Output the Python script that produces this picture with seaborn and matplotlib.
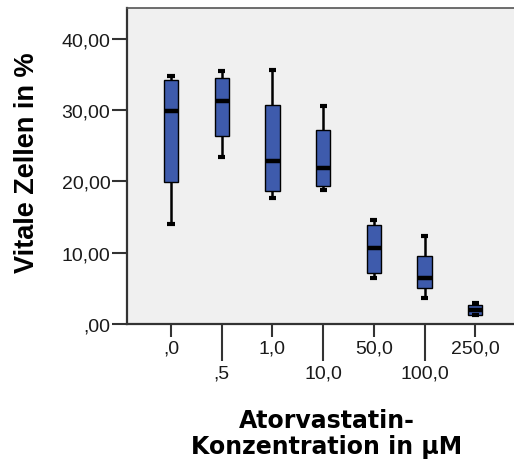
import numpy as np
import pandas as pd
import matplotlib
matplotlib.use("Agg")
import matplotlib.pyplot as plt
import seaborn as sns

# Konzentrationen (Beschriftung wie in SPSS)
konz = [",0", ",5", "1,0", "10,0", "50,0", "100,0", "250,0"]

minimum = [14.0, 23.4, 17.7, 18.8, 6.5, 3.7, 1.2]
q1 = [19.9, 26.3, 18.7, 19.3, 7.1, 5.1, 1.3]
median = [29.8, 31.3, 22.9, 21.8, 10.6, 6.5, 2.0]
q3 = [34.2, 34.5, 30.7, 27.2, 13.9, 9.5, 2.6]
maximum = [34.8, 35.4, 35.6, 30.5, 14.6, 12.3, 2.9]

y_ticks = [0, 10, 20, 30, 40]
y_ticklabels = [",00", "10,00", "20,00", "30,00", "40,00"]

rows = []
for i, k in enumerate(konz):
    for v in (minimum[i], q1[i], median[i], q3[i], maximum[i]):
        rows.append({"Konzentration": k, "Vitale Zellen": v})
df = pd.DataFrame(rows)

sns.set_style("white")
plt.rcParams['font.family'] = ['Liberation Sans', 'DejaVu Sans']
plt.rcParams['text.color'] = 'black'
plt.rcParams['axes.labelcolor'] = 'black'

fig = plt.figure(figsize=(5.14, 4.64), dpi=100)
ax = fig.add_axes([127 / 514, 139 / 464, 387 / 514, 316 / 464])
ax.set_facecolor("#f0f0f0")

sns.boxplot(data=df, x="Konzentration", y="Vitale Zellen", order=konz,
            color="#3e5bac", saturation=1, width=0.28, whis=(0, 100),
            linecolor="black", linewidth=1.0, ax=ax,
            medianprops=dict(color="black", linewidth=3.2, solid_capstyle="butt"),
            whiskerprops=dict(color="black", linewidth=1.8),
            capprops=dict(color="black", linewidth=3.0, solid_capstyle="butt"))

ax.set_xlim(-0.868, 6.765)
ax.set_ylim(0, 44.3)

# y-Achse
ax.set_yticks(y_ticks, y_ticklabels, fontsize=14)
ax.tick_params(axis="y", left=True, length=11, width=1.5, pad=1,
               color="#333333", labelcolor="#1a1a1a")

# x-Achse: Beschriftung versetzt in zwei Reihen
ax.set_xticks([0, 2, 4, 6], [konz[i] for i in (0, 2, 4, 6)], fontsize=14)
ax.set_xticks([1, 3, 5], [konz[i] for i in (1, 3, 5)], minor=True, fontsize=14)
ax.tick_params(axis="x", which="major", bottom=True, length=9.5, width=1.5,
               pad=2, color="#333333", labelcolor="#1a1a1a")
ax.tick_params(axis="x", which="minor", bottom=True, length=26.5, width=1.5,
               pad=3, color="#333333", labelcolor="#1a1a1a")

for s in ("left", "bottom"):
    ax.spines[s].set_color("#333333")
    ax.spines[s].set_linewidth(1.6)
ax.spines["top"].set_color("#555555")
ax.spines["top"].set_linewidth(1.2)
ax.spines["right"].set_visible(False)

ax.set_ylabel("Vitale Zellen in %", fontsize=19.5, fontweight="bold", va="center")
ax.yaxis.set_label_coords((27 - 127) / 387, (325 - 163) / 316)
ax.set_xlabel("Atorvastatin-\nKonzentration in µM", fontsize=17, fontweight="bold",
              family=["DejaVu Sans"], linespacing=1.15, va="center")
ax.xaxis.set_label_coords((327 - 127) / 387, (325 - 434) / 316)

plt.savefig("out.png", dpi=100)
